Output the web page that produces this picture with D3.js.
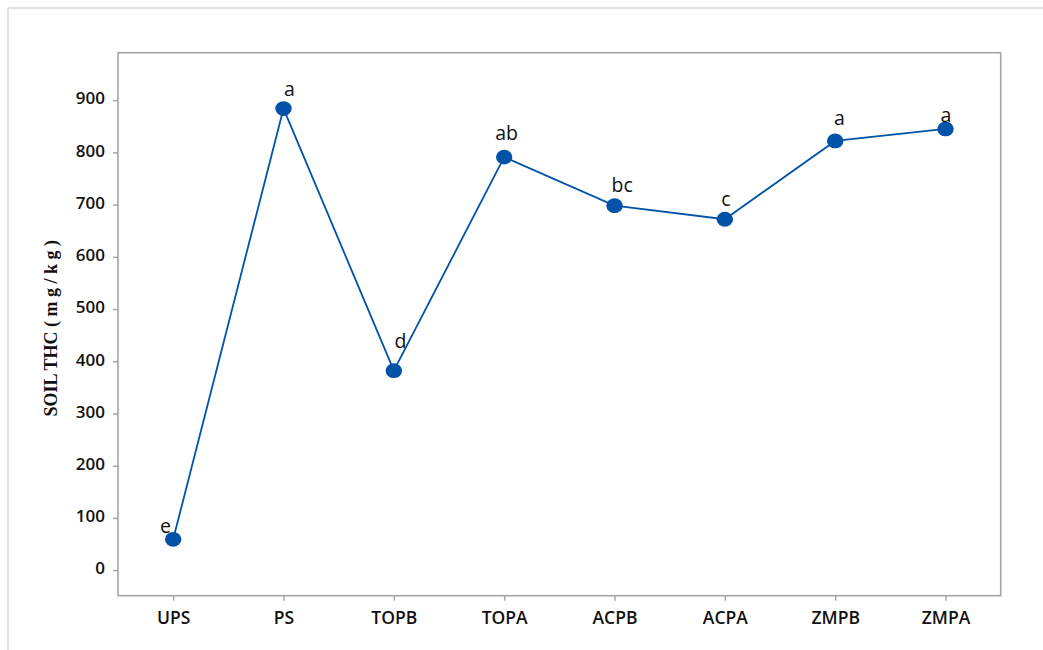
<!DOCTYPE html>
<html>
<head>
<meta charset="utf-8">
<script src="https://cdn.jsdelivr.net/npm/d3@7"></script>
<style>
  html, body { margin: 0; padding: 0; background: #fff; }
  svg { display: block; }
</style>
</head>
<body>
<svg id="chart" width="1043" height="650"></svg>
<script>
// ---- data ----
const categories = ["UPS", "PS", "TOPB", "TOPA", "ACPB", "ACPA", "ZMPB", "ZMPA"];
const thcValues  = [59, 884, 382, 791, 698, 672, 822, 845];
const groupLetters = ["e", "a", "d", "ab", "bc", "c", "a", "a"];
const yTickValues = [0, 100, 200, 300, 400, 500, 600, 700, 800, 900];
const yDomain = [-49, 991];
const yTitle = "SOIL THC";
const yUnit = "(mg/kg)";

// ---- layout / style ----
const frame = { left: 118, top: 52.7, right: 1000.7, bottom: 595.7 };
const letterOffsets = [[-7.7, -6.3], [6, -12.3], [6.7, -23], [2.4, -16.7],
                       [7.7, -13.4], [1, -13.6], [4.3, -15.7], [0.4, -7.3]];
const blue = "#0253a8";
const frameColor = "#a6a6a6";

const svg = d3.select("#chart");

// outer partial border
svg.append("line").attr("x1", 8).attr("y1", 8).attr("x2", 1043).attr("y2", 8)
  .attr("stroke", "#d9d9d9").attr("stroke-width", 1.5);
svg.append("line").attr("x1", 8).attr("y1", 8).attr("x2", 8).attr("y2", 650)
  .attr("stroke", "#d9d9d9").attr("stroke-width", 1.5);

const x = d3.scalePoint().domain(categories).range([frame.left, frame.right]).padding(0.5);
const y = d3.scaleLinear().domain(yDomain).range([frame.bottom, frame.top]);

// frame
svg.append("rect")
  .attr("x", frame.left).attr("y", frame.top)
  .attr("width", frame.right - frame.left).attr("height", frame.bottom - frame.top)
  .attr("fill", "none").attr("stroke", frameColor).attr("stroke-width", 1.6);

// y axis
const yAxis = svg.append("g").attr("transform", `translate(${frame.left},0)`)
  .call(d3.axisLeft(y).tickValues(yTickValues).tickSize(5).tickPadding(8).tickFormat(d3.format("d")));
yAxis.select(".domain").remove();
yAxis.selectAll(".tick line").attr("stroke", frameColor).attr("stroke-width", 1.5);
yAxis.selectAll(".tick text")
  .attr("fill", "#111").attr("font-family", "'Open Sans', sans-serif")
  .attr("font-size", 17).attr("font-weight", 600).attr("dy", "0.22em");

// x axis
const xAxis = svg.append("g").attr("transform", `translate(0,${frame.bottom})`)
  .call(d3.axisBottom(x).tickSize(5).tickPadding(8));
xAxis.select(".domain").remove();
xAxis.selectAll(".tick line").attr("stroke", frameColor).attr("stroke-width", 1.5);
xAxis.selectAll(".tick text")
  .attr("fill", "#111").attr("font-family", "'Open Sans', sans-serif")
  .attr("font-size", 17.5).attr("font-weight", 600).attr("dy", "0.85em");

// y title
const title = svg.append("text")
  .attr("transform", "translate(57,326) rotate(-90)")
  .attr("text-anchor", "middle")
  .attr("font-family", "'Liberation Serif', 'Times New Roman', serif")
  .attr("font-weight", "bold").attr("font-size", 18).attr("fill", "#111");
title.append("tspan").text(yTitle + " ");
title.append("tspan").attr("letter-spacing", 4.5).text(yUnit);

// line
const pts = categories.map((c, i) => ({ c, v: thcValues[i], g: groupLetters[i], o: letterOffsets[i] }));
svg.append("path").datum(pts)
  .attr("fill", "none").attr("stroke", blue).attr("stroke-width", 1.8)
  .attr("d", d3.line().x(d => x(d.c)).y(d => y(d.v)));

// markers
svg.selectAll("ellipse.pt").data(pts).enter().append("ellipse")
  .attr("class", "pt")
  .attr("cx", d => x(d.c)).attr("cy", d => y(d.v))
  .attr("rx", 8.2).attr("ry", 7.4).attr("fill", blue);

// letters
svg.selectAll("text.lbl").data(pts).enter().append("text")
  .attr("class", "lbl")
  .attr("x", d => x(d.c) + d.o[0]).attr("y", d => y(d.v) + d.o[1])
  .attr("text-anchor", "middle")
  .attr("font-family", "'Open Sans', sans-serif").attr("font-size", 19.5)
  .attr("fill", "#111").text(d => d.g);
</script>
</body>
</html>
